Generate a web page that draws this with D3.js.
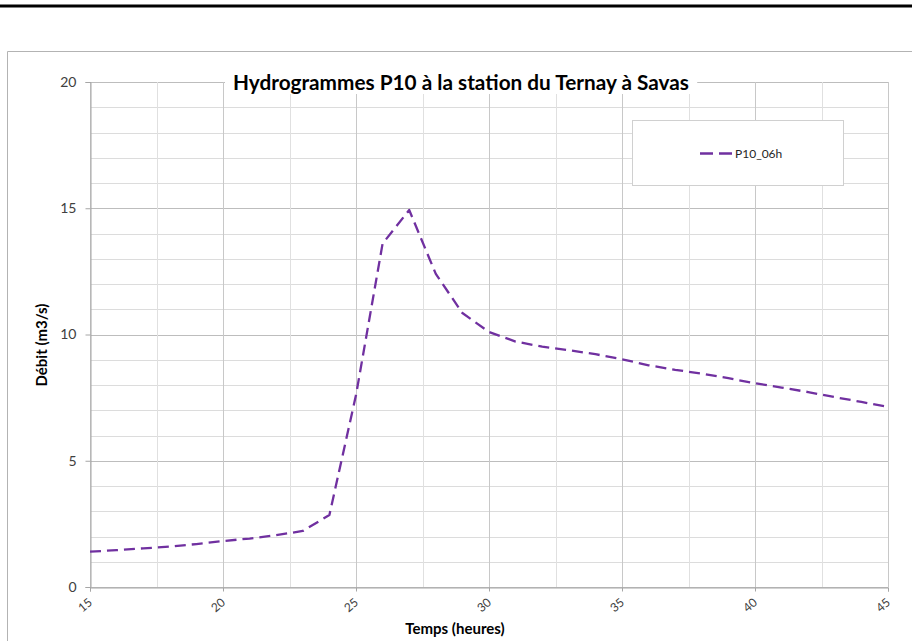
<!DOCTYPE html>
<html>
<head>
<meta charset="utf-8">
<script src="https://cdn.jsdelivr.net/npm/d3@7"></script>
<style>
  html, body { margin: 0; padding: 0; background: #fff; overflow: hidden; }
  svg { display: block; }
</style>
</head>
<body>
<svg id="chart" width="912" height="641"></svg>
<script>
// ---- Data ----
const hours = [15,16,17,18,19,20,21,22,23,24,25,26,27,28,29,30,31,32,33,34,35,36,37,38,39,40,41,42,43,44,45];
const debit = [1.40,1.46,1.53,1.60,1.70,1.82,1.92,2.05,2.22,2.85,7.6,13.6,14.93,12.4,10.85,10.1,9.72,9.52,9.38,9.22,9.02,8.78,8.6,8.45,8.27,8.07,7.9,7.72,7.52,7.33,7.13];
const seriesName = "P10_06h";
const xTicks = [15,20,25,30,35,40,45];
const yTicks = [0,5,10,15,20];
const titleText = "Hydrogrammes P10 à la station du Ternay à Savas";
const xTitle = "Temps (heures)";
const yTitle = "Débit (m3/s)";

// ---- Layout ----
const svg = d3.select("#chart");
const font = "Lato, 'Open Sans', sans-serif";
const plot = {left: 90, right: 888, top: 82, bottom: 587};
const x = d3.scaleLinear().domain([15,45]).range([plot.left, plot.right]);
const y = d3.scaleLinear().domain([0,20]).range([plot.bottom, plot.top]);

// top black rule
svg.append("rect").attr("x",0).attr("y",4.5).attr("width",912).attr("height",3).attr("fill","#000");

// chart frame: only top and left edges are visible in the window
svg.append("path").attr("d","M7.5,641 V51.5 H912")
  .attr("fill","none").attr("stroke","#b3b3b3").attr("stroke-width",1);

// gridlines
const g = svg.append("g");
const yMinor = d3.range(0,21,1);
g.selectAll("line.hy").data(yMinor).join("line")
  .attr("x1",plot.left).attr("x2",plot.right)
  .attr("y1",d=>Math.round(y(d))+0.5).attr("y2",d=>Math.round(y(d))+0.5)
  .attr("stroke",d=> d%5===0 ? "#bdbdbd" : "#dcdcdc").attr("stroke-width",1);
const xMinor = d3.range(15,45.01,2.5);
g.selectAll("line.vx").data(xMinor).join("line")
  .attr("y1",plot.top).attr("y2",plot.bottom)
  .attr("x1",d=>Math.round(x(d))+0.5).attr("x2",d=>Math.round(x(d))+0.5)
  .attr("stroke",d=> d%5===0 ? "#c8c8c8" : "#e0e0e0").attr("stroke-width",1);

// axes
const yAxis = d3.axisLeft(y).tickValues(yTicks).tickSize(5).tickPadding(9).tickFormat(d3.format("d"));
const ya = svg.append("g").attr("transform",`translate(${plot.left+0.5},0)`).call(yAxis);
ya.select(".domain").attr("stroke","#a6a6a6");
ya.selectAll(".tick line").attr("stroke","#a6a6a6");
ya.selectAll(".tick text").attr("font-family",font).attr("font-size",14).attr("fill","#404040");

const xAxis = d3.axisBottom(x).tickValues(xTicks).tickSize(4).tickFormat(d3.format("d"));
const xa = svg.append("g").attr("transform",`translate(0,${plot.bottom+0.5})`).call(xAxis);
xa.select(".domain").attr("stroke","#a6a6a6");
xa.selectAll(".tick line").attr("stroke","#a6a6a6");
xa.selectAll(".tick text").attr("font-family",font).attr("font-size",12).attr("fill","#404040")
  .attr("text-anchor","end").attr("dy","0.35em").attr("x",0).attr("y",0)
  .attr("transform","translate(0,13) rotate(-40)");

// line
const line = d3.line().x((d,i)=>x(hours[i])).y(d=>y(d));
svg.append("path").datum(debit).attr("d",line)
  .attr("fill","none").attr("stroke","#7030A0").attr("stroke-width",2.3)
  .attr("stroke-dasharray","11,6").attr("stroke-linejoin","round");

// title with white background
const titleBg = svg.append("rect").attr("fill","#fff");
const t = svg.append("text").attr("x",461).attr("y",90).attr("text-anchor","middle")
  .attr("font-family",font).attr("font-weight","bold").attr("font-size",20).attr("fill","#000")
  .attr("textLength",456).attr("lengthAdjust","spacingAndGlyphs")
  .text(titleText);
const bb = t.node().getBBox();
titleBg.attr("x",bb.x-8).attr("y",bb.y).attr("width",bb.width+16).attr("height",bb.height);

// axis titles
svg.append("text").attr("x",455).attr("y",634).attr("text-anchor","middle")
  .attr("font-family",font).attr("font-weight","bold").attr("font-size",15).attr("fill","#000")
  .text(xTitle);
svg.append("text").attr("transform","translate(47,345) rotate(-90)").attr("text-anchor","middle")
  .attr("font-family",font).attr("font-weight","bold").attr("font-size",15).attr("fill","#000")
  .text(yTitle);

// legend
const lg = svg.append("g");
lg.append("rect").attr("x",632.5).attr("y",120.5).attr("width",211).attr("height",65)
  .attr("fill","#fff").attr("stroke","#d0d0d0");
lg.append("line").attr("x1",700).attr("x2",733).attr("y1",153.5).attr("y2",153.5)
  .attr("stroke","#7030A0").attr("stroke-width",2.3).attr("stroke-dasharray","13,6");
lg.append("text").attr("x",735).attr("y",158).attr("font-family",font).attr("font-size",12)
  .attr("fill","#262626").text(seriesName);
</script>
</body>
</html>
